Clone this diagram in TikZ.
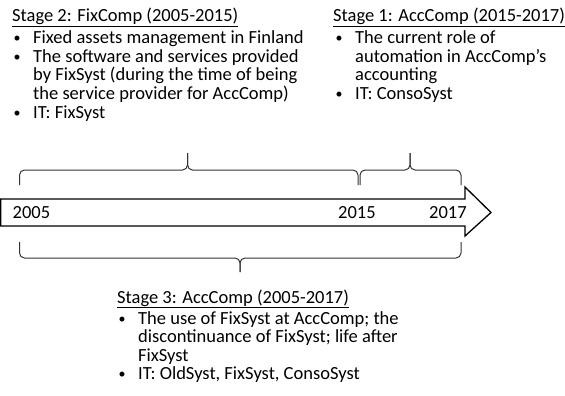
\documentclass[tikz,border=0pt]{standalone}
\usepackage{fontspec}
\setmainfont{Carlito}
\newcommand\bul{\makebox[21pt][l]{\hspace{1.5pt}\raisebox{1pt}{\fontsize{14}{14}\selectfont\textbullet}}}
\begin{document}
\begin{tikzpicture}[x=1pt,y=-1pt,
  txt/.style={font=\fontsize{18.5}{19}\selectfont, inner sep=0pt, anchor=base west},
  arrowshape/.style={draw=black, line width=1.3pt, fill=white, line join=miter},
  bracestyle/.style={draw=black!80, line width=1pt, rounded corners=5pt}]
\useasboundingbox (0,0) rectangle (565,396);

% timeline arrow
\draw[arrowshape] (0.6,199) -- (465,199) -- (465,187) -- (491,212.5) -- (465,236) -- (465,226) -- (0.6,226) -- cycle;
\node[txt] (y2005) at (12.5,218.5) {2005};
\node[txt] (y2015) at (338,218.5) {2015};
\node[txt] (y2017) at (429,218.5) {2017};

% braces
\draw[bracestyle] (19.5,185) -- (19.5,170) -- (187.5,170) -- (187.5,153);
\draw[bracestyle] (187.5,153) -- (187.5,170) -- (358,170) -- (358,185);
\draw[bracestyle] (360,185) -- (360,170) -- (410,170) -- (410,153);
\draw[bracestyle] (410,153) -- (410,170) -- (461,170) -- (461,185);
\draw[bracestyle] (19.5,242) -- (19.5,258) -- (240,258) -- (240,272);
\draw[bracestyle] (240,272) -- (240,258) -- (461,258) -- (461,242);

% Stage 2
\node[txt] (s2t) at (12,22) {\underline{Stage 2: FixComp (2005-2015)}};
\node[txt] (s2a) at (12,44) {\bul Fixed assets management in Finland};
\node[txt] (s2b) at (12,62.5) {\bul The software and services provided};
\node[txt] (s2c) at (33,81) {by FixSyst (during the time of being};
\node[txt] (s2d) at (33,99.5) {the service provider for AccComp)};
\node[txt] (s2e) at (12,118) {\bul IT: FixSyst};

% Stage 1
\node[txt] (s1t) at (333,22) {\underline{Stage 1: AccComp (2015-2017)}};
\node[txt] (s1a) at (334,44) {\bul The current role of};
\node[txt] (s1b) at (355,62.5) {automation in AccComp’s};
\node[txt] (s1c) at (355,81) {accounting};
\node[txt] (s1d) at (334,99.5) {\bul IT: ConsoSyst};

% Stage 3
\node[txt] (s3t) at (117,303) {\underline{Stage 3: AccComp (2005-2017)}};
\node[txt] (s3a) at (117,324) {\bul The use of FixSyst at AccComp; the};
\node[txt] (s3b) at (138,342.5) {discontinuance of FixSyst; life after};
\node[txt] (s3c) at (138,361) {FixSyst};
\node[txt] (s3d) at (117,379.5) {\bul IT: OldSyst, FixSyst, ConsoSyst};
\end{tikzpicture}
\end{document}
